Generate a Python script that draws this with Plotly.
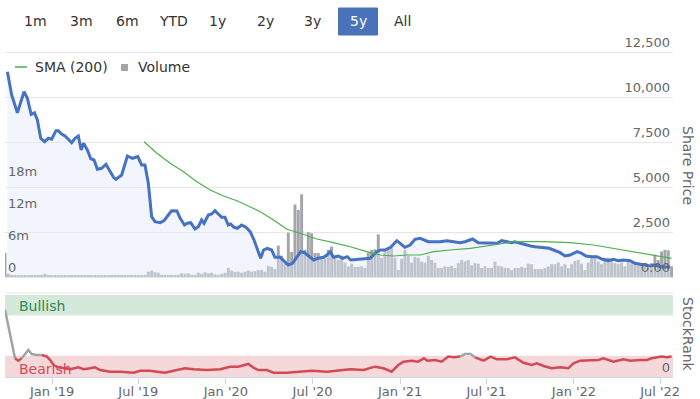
import pandas as pd
import plotly.graph_objects as go

# ---------------- data ----------------
price_dates = [
    "2018-09-29", "2018-10-08", "2018-10-20", "2018-11-03", "2018-11-10", "2018-11-18", "2018-11-25",
    "2018-12-01", "2018-12-08", "2018-12-16", "2018-12-24", "2018-12-31", "2019-01-09", "2019-01-14",
    "2019-01-21", "2019-01-28", "2019-02-04", "2019-02-11", "2019-02-18", "2019-02-25", "2019-03-03",
    "2019-03-08", "2019-03-16", "2019-03-23", "2019-03-30", "2019-04-06", "2019-04-15", "2019-04-24",
    "2019-05-01", "2019-05-10", "2019-05-15", "2019-05-27", "2019-06-08", "2019-06-19", "2019-06-30",
    "2019-07-08", "2019-07-15", "2019-07-22", "2019-07-29", "2019-08-05", "2019-08-16", "2019-08-24",
    "2019-09-02", "2019-09-09", "2019-09-20", "2019-09-27", "2019-10-06", "2019-10-12", "2019-10-19",
    "2019-10-28", "2019-11-04", "2019-11-11", "2019-11-16", "2019-11-25", "2019-12-02", "2019-12-09",
    "2019-12-16", "2019-12-23", "2019-12-30", "2020-01-06", "2020-01-11", "2020-01-18", "2020-01-25",
    "2020-02-03", "2020-02-12", "2020-02-21", "2020-02-29", "2020-03-07", "2020-03-14", "2020-03-20",
    "2020-03-28", "2020-04-06", "2020-04-13", "2020-04-24", "2020-05-02", "2020-05-11", "2020-05-20",
    "2020-05-29", "2020-06-06", "2020-06-14", "2020-06-22", "2020-07-03", "2020-07-13", "2020-07-24",
    "2020-07-31", "2020-08-07", "2020-08-14", "2020-08-24", "2020-09-02", "2020-09-12", "2020-09-19",
    "2020-10-02", "2020-10-16", "2020-10-30", "2020-11-06", "2020-11-13", "2020-11-21", "2020-11-30",
    "2020-12-12", "2020-12-25", "2021-01-01", "2021-01-11", "2021-01-22", "2021-02-01", "2021-02-12",
    "2021-02-20", "2021-03-01", "2021-03-12", "2021-03-26", "2021-04-09", "2021-04-23", "2021-05-07",
    "2021-05-17", "2021-05-28", "2021-06-02", "2021-06-14", "2021-06-28", "2021-07-12", "2021-07-24",
    "2021-08-02", "2021-08-13", "2021-08-23", "2021-08-30", "2021-09-10", "2021-09-20", "2021-10-02",
    "2021-10-11", "2021-10-22", "2021-11-01", "2021-11-10", "2021-11-19", "2021-12-03", "2021-12-13",
    "2021-12-24", "2021-12-31", "2022-01-08", "2022-01-17", "2022-01-26", "2022-02-07", "2022-02-18",
    "2022-03-02", "2022-03-14", "2022-03-25", "2022-04-04", "2022-04-15", "2022-04-29", "2022-05-09",
    "2022-05-20", "2022-05-30", "2022-06-10", "2022-06-20", "2022-07-01", "2022-07-11", "2022-07-22",
]
price_values = [
    11406, 10112, 9128, 10295, 9928, 9040, 9128,
    8723, 7706, 7517, 7706, 7651, 8128, 8128,
    7945, 7834, 7651, 7462, 7706, 7834, 7056,
    7428, 7056, 6573, 6500, 5984, 6039, 6262,
    5945, 5539, 5428, 5667, 6723, 6595, 6684,
    6223, 6223, 5206, 3350, 3072, 3017, 3128,
    3445, 3684, 3667, 3261, 2889, 2984, 3017,
    2667, 2795, 3167, 2984, 3445, 3500, 3684,
    3500, 3317, 3317, 2889, 2945, 2761, 2706,
    2889, 2761, 2517, 2056, 1500, 1039, 1500,
    1595, 1500, 1094, 1094, 906, 667, 761,
    1094, 1406, 1350, 1167, 945, 1039, 1094,
    1222, 1406, 1094, 1167, 1039, 1128, 945,
    983, 983, 1039, 1222, 1406, 1500, 1500,
    1650, 2017, 1872, 1650, 1778, 2095, 2150,
    2056, 1961, 1961, 1961, 2017, 1961, 1906,
    1961, 2095, 2111, 1906, 1906, 1872, 1872,
    2017, 1961, 1906, 1961, 1872, 1833, 1722,
    1683, 1650, 1650, 1595, 1500, 1350, 1167,
    1222, 1317, 1406, 1317, 1167, 1128, 1128,
    983, 906, 983, 906, 945, 906, 761,
    722, 667, 611, 667, 572, 539, 572,
]

sma_dates = [
    "2019-07-13", "2019-08-09", "2019-09-06", "2019-10-04", "2019-11-01", "2019-11-29", "2019-12-27",
    "2020-01-24", "2020-02-27", "2020-03-13", "2020-04-10", "2020-05-08", "2020-06-05", "2020-07-10",
    "2020-08-14", "2020-09-18", "2020-10-23", "2020-11-20", "2020-12-18", "2021-01-15", "2021-02-12",
    "2021-03-12", "2021-04-16", "2021-05-28", "2021-07-16", "2021-08-27", "2021-10-29", "2021-12-24",
    "2022-02-11", "2022-04-08", "2022-06-03", "2022-07-25",
]
sma_values = [
    7517, 6873, 6317, 5850, 5295, 4834, 4500,
    4239, 3817, 3628, 3167, 2650, 2428, 2111,
    1906, 1683, 1406, 1222, 1167, 1222, 1222,
    1406, 1500, 1595, 1778, 1961, 1961, 1906,
    1778, 1539, 1278, 1039,
]

volume_start = "2018-09-24"  # weekly bars
volume_millions = [
    4.5, 0.6, 0.4, 0.3, 0.3, 0.2, 0.3, 0.2, 0.2, 0.3,
    0.2, 0.4, 0.6, 0.3, 0.2, 0.2, 0.3, 0.2, 0.2, 0.2,
    0.3, 0.2, 0.2, 0.3, 0.2, 0.3, 0.2, 0.2, 0.3, 0.2,
    0.3, 0.2, 0.3, 0.4, 0.3, 0.2, 0.3, 0.2, 0.3, 0.4,
    0.3, 0.3, 0.4, 1.0, 1.2, 0.9, 0.8, 0.4, 0.4, 0.3,
    0.4, 0.4, 0.4, 0.7, 0.6, 0.7, 0.4, 0.4, 0.8, 0.6,
    0.9, 0.7, 0.8, 0.5, 0.4, 0.6, 0.8, 1.7, 1.2, 1.0,
    1.0, 0.8, 1.0, 1.2, 1.0, 1.1, 1.3, 1.3, 1.0, 2.1,
    1.9, 1.5, 5.9, 4.0, 2.6, 8.3, 4.7, 13.6, 12.6, 15.5,
    5.1, 8.4, 8.2, 4.5, 4.5, 3.8, 3.6, 5.1, 5.7, 3.6,
    3.2, 4.0, 2.7, 2.0, 2.5, 1.9, 1.9, 2.0, 1.7, 4.6,
    5.1, 5.2, 8.0, 3.6, 4.9, 5.6, 5.4, 3.6, 1.3, 3.4,
    5.1, 4.0, 2.7, 3.8, 3.6, 2.9, 2.7, 4.0, 3.2, 2.7,
    1.7, 1.7, 2.0, 1.9, 2.1, 1.7, 2.6, 3.2, 2.9, 3.2,
    2.2, 2.6, 2.5, 1.7, 2.0, 1.7, 1.7, 2.9, 2.1, 2.0,
    1.7, 1.7, 1.3, 1.7, 1.7, 1.9, 1.7, 2.5, 2.4, 1.5,
    1.5, 1.5, 1.7, 2.0, 2.4, 2.4, 2.7, 2.0, 2.4, 1.7,
    2.4, 3.0, 3.2, 2.5, 1.3, 2.7, 4.0, 4.0, 2.9, 2.4,
    3.6, 3.6, 3.0, 2.6, 2.4, 2.7, 2.0, 2.9, 2.6, 2.7,
    2.4, 2.6, 2.0, 1.7, 2.6, 4.2, 3.2, 4.8, 5.1, 5.0,
    2.0,
]

rank_dates = [
    "2018-09-24", "2018-10-15", "2018-10-22", "2018-10-29", "2018-11-12", "2018-11-19", "2018-11-30",
    "2018-12-10", "2018-12-21", "2018-12-28", "2019-01-04", "2019-01-14", "2019-01-25", "2019-02-08",
    "2019-02-25", "2019-03-08", "2019-03-22", "2019-04-01", "2019-04-12", "2019-05-03", "2019-05-24",
    "2019-06-21", "2019-07-05", "2019-07-26", "2019-08-09", "2019-08-26", "2019-09-13", "2019-10-07",
    "2019-10-25", "2019-11-22", "2019-12-20", "2020-01-10", "2020-01-27", "2020-02-17", "2020-02-27",
    "2020-03-09", "2020-03-27", "2020-04-10", "2020-05-08", "2020-06-05", "2020-06-29", "2020-07-31",
    "2020-08-28", "2020-09-18", "2020-10-16", "2020-11-09", "2020-11-27", "2020-12-14", "2020-12-28",
    "2021-01-08", "2021-01-25", "2021-02-08", "2021-02-20", "2021-02-27", "2021-03-15", "2021-03-29",
    "2021-04-12", "2021-04-24", "2021-05-07", "2021-05-17", "2021-05-29", "2021-06-07", "2021-06-25",
    "2021-07-10", "2021-07-23", "2021-08-13", "2021-08-30", "2021-09-17", "2021-10-04", "2021-10-15",
    "2021-10-29", "2021-11-15", "2021-12-03", "2021-12-20", "2021-12-31", "2022-01-14", "2022-02-04",
    "2022-02-21", "2022-03-04", "2022-03-25", "2022-04-15", "2022-04-29", "2022-05-20", "2022-06-03",
    "2022-06-13", "2022-07-04", "2022-07-15", "2022-07-25",
]
rank_values = [
    82, 22.8, 19.9, 22.8, 32.9, 28, 26.8,
    26.8, 24.8, 20.7, 14.6, 11.8, 10.6, 9.4,
    11.8, 9.4, 10.6, 11.8, 8.5, 6.5, 6.5,
    5.2, 7.7, 7.7, 6.5, 5.2, 7.7, 10.6,
    9.4, 8.5, 9.4, 12.6, 12.6, 15.9, 11.8,
    8.5, 8.5, 5.2, 5.2, 6.5, 7.7, 6.5,
    8.5, 9.4, 8.5, 12.6, 10.6, 6.5, 14.6,
    18.7, 19.9, 18.7, 22.8, 19.9, 20.7, 18.7,
    25, 24, 25, 28, 28, 24, 19.9,
    24.8, 21.6, 21.6, 24, 17.4, 14.6, 16.7,
    13.4, 10.6, 11.8, 10.6, 16.7, 19.9, 19.9,
    20.7, 22.8, 18.7, 21.6, 19.9, 20.7, 20.7,
    22.8, 25, 24, 25,
]

price_ticks = [0, 2500, 5000, 7500, 10000, 12500]
price_tick_text = ["0.00", "2,500", "5,000", "7,500", "10,000", "12,500"]
volume_ticks = [0, 6e6, 12e6, 18e6]
volume_tick_text = ["0", "6m", "12m", "18m"]
date_ticks = ["2019-01-01", "2019-07-01", "2020-01-01", "2020-07-01",
              "2021-01-01", "2021-07-01", "2022-01-01", "2022-07-01"]
date_tick_text = ["Jan '19", "Jul '19", "Jan '20", "Jul '20",
                  "Jan '21", "Jul '21", "Jan '22", "Jul '22"]
range_buttons = ["1m", "3m", "6m", "YTD", "1y", "2y", "3y", "5y", "All"]
selected_button = "5y"
bearish_limit = 26
bullish_limit = 75

# ---------------- geometry helpers (pixels) ----------------
W_FIG, H_FIG = 700, 399
PL, PR, PT, PB = 5, 673, 24, 377      # plot area (top extended so the 12,500 label fits)
PW, PH = PR - PL, PB - PT
MAIN_BOTTOM, PRICE_TOP_LINE = 277, 52  # y pixel of price 0 and 12,500
PANEL_TOP = 295

price_axis_max = 12500 * (MAIN_BOTTOM - PT) / (MAIN_BOTTOM - PRICE_TOP_LINE)
volume_axis_max = 6e6 * (MAIN_BOTTOM - PT) / 32.0


def px(x):
    return (x - PL) / PW


def py(y):
    return (PB - y) / PH


FONT = "DejaVu Sans"
vol_dates = pd.date_range(volume_start, periods=len(volume_millions), freq="7D")

fig = go.Figure()

fig.add_trace(go.Bar(
    x=vol_dates, y=[v * 1e6 for v in volume_millions], name="Volume",
    marker=dict(color="#a3a5ab", line_width=0), xaxis="x", yaxis="y",
    hoverinfo="skip", showlegend=False,
))
fig.add_trace(go.Scatter(
    x=price_dates, y=price_values, mode="lines", name="Share Price",
    line=dict(color="#4572c4", width=3), fill="tozeroy",
    fillcolor="rgba(226,233,246,0.45)", xaxis="x", yaxis="y2", showlegend=False,
))
fig.add_trace(go.Scatter(
    x=sma_dates, y=sma_values, mode="lines", name="SMA (200)",
    line=dict(color="#4cb04c", width=1.2), xaxis="x", yaxis="y2", showlegend=False,
))


# StockRank line split into coloured zones (colour per segment by its mean value)
def zone_color(v):
    if v < bearish_limit:
        return "#d34a57"
    if v >= bullish_limit:
        return "#3d9b5a"
    return "#a3a3a3"


runs = []
for i in range(len(rank_values) - 1):
    c = zone_color((rank_values[i] + rank_values[i + 1]) / 2)
    if runs and runs[-1][0] == c:
        runs[-1][2] = i + 1
    else:
        runs.append([c, i, i + 1])
for c, a, b in runs:
    fig.add_trace(go.Scatter(
        x=rank_dates[a:b + 1], y=rank_values[a:b + 1], mode="lines",
        line=dict(color=c, width=2.5), xaxis="x2", yaxis="y3",
        showlegend=False, name="StockRank",
    ))

axis_font = dict(family=FONT, size=13, color="#666666")

fig.update_layout(
    width=W_FIG, height=H_FIG, autosize=False,
    margin=dict(l=PL, r=W_FIG - PR, t=PT, b=H_FIG - PB, autoexpand=False),
    paper_bgcolor="white", plot_bgcolor="rgba(0,0,0,0)",
    bargap=0.12, showlegend=False,
    font=dict(family=FONT, size=13, color="#333333"),
    xaxis=dict(
        domain=[0, 1], anchor="y", range=["2018-09-24", "2022-07-28"],
        showticklabels=False, showgrid=False, zeroline=False, ticks="",
        showline=True, linecolor="#e6e6e6", linewidth=1,
    ),
    xaxis2=dict(
        domain=[0, 1], anchor="y3", matches="x",
        tickmode="array", tickvals=date_ticks, ticktext=date_tick_text,
        ticks="outside", ticklen=6, tickcolor="#ccd6eb",
        ticklabelstandoff=-4,
        showline=True, linecolor="#ccd6eb", showgrid=False, zeroline=False,
        tickfont=axis_font,
    ),
    yaxis=dict(
        domain=[py(MAIN_BOTTOM), 1], anchor="x", side="left", range=[0, volume_axis_max],
        tickmode="array", tickvals=volume_ticks, ticktext=volume_tick_text,
        ticklabelposition="inside top", showgrid=False, zeroline=False,
        tickfont=axis_font, ticks="",
    ),
    yaxis2=dict(
        overlaying="y", anchor="x", side="right", range=[0, price_axis_max],
        tickmode="array", tickvals=price_ticks, ticktext=price_tick_text,
        ticklabelposition="inside top", showgrid=True, gridcolor="#e6e6e6",
        zeroline=False, tickfont=axis_font, ticks="",
    ),
    yaxis3=dict(
        domain=[0, py(PANEL_TOP)], anchor="x2", side="right", range=[0, 100],
        tickmode="array", tickvals=[0], ticktext=["0"],
        ticklabelposition="inside top", showgrid=False, zeroline=False,
        tickfont=axis_font, ticks="",
    ),
)

shapes = [
    dict(type="rect", xref="x2 domain", yref="y3", x0=0, x1=1, y0=bullish_limit, y1=100,
         fillcolor="#d4e8dc", line_width=0, layer="below"),
    dict(type="rect", xref="x2 domain", yref="y3", x0=0, x1=1, y0=0, y1=bearish_limit,
         fillcolor="#f5d8da", line_width=0, layer="below"),
    dict(type="line", xref="paper", yref="paper", x0=0, x1=1, y0=py(293), y1=py(293),
         line=dict(color="#e6e6e6", width=1)),
    dict(type="line", xref="paper", yref="paper", x0=px(15), x1=px(27), y0=py(67), y1=py(67),
         line=dict(color="#4cb04c", width=1.5)),
    dict(type="rect", xref="paper", yref="paper", x0=px(121), x1=px(128), y0=py(71), y1=py(64),
         fillcolor="#a3a5ab", line_width=0),
]

annotations = [
    dict(text="SMA (200)", x=px(33), y=py(67), xanchor="left", yanchor="middle"),
    dict(text="Volume", x=px(136), y=py(67), xanchor="left", yanchor="middle"),
    dict(text="Share Price", x=px(688), y=py(165), textangle=90,
         xanchor="center", yanchor="middle",
         font=dict(family=FONT, size=14, color="#666666")),
    dict(text="StockRank", x=px(688), y=py(334), textangle=90,
         xanchor="center", yanchor="middle",
         font=dict(family=FONT, size=14, color="#666666")),
    dict(text="Bullish", x=px(17), y=py(306), xanchor="left", yanchor="middle",
         font=dict(family=FONT, size=14, color="#2f8a4c")),
    dict(text="Bearish", x=px(17), y=py(369), xanchor="left", yanchor="middle",
         font=dict(family=FONT, size=14, color="#d24b58")),
]

button_centers = [35, 81, 127, 173, 217, 265, 312, 358, 402]
for label, cx in zip(range_buttons, button_centers):
    sel = label == selected_button
    if sel:
        shapes.append(dict(type="rect", xref="paper", yref="paper",
                           x0=px(cx - 19.5), x1=px(cx + 19.5), y0=py(35), y1=py(8),
                           fillcolor="#4a72b9", line=dict(color="#4a72b9", width=1)))
    annotations.append(dict(text=label, x=px(cx), y=py(21), xanchor="center", yanchor="middle",
                            font=dict(family=FONT, size=14,
                                      color="white" if sel else "#333333")))

for a in annotations:
    a.setdefault("xref", "paper")
    a.setdefault("yref", "paper")
    a.setdefault("showarrow", False)
    a.setdefault("font", dict(family=FONT, size=14, color="#333333"))

fig.update_layout(shapes=shapes, annotations=annotations)

fig.write_html(
    "out.html",
    config={"displayModeBar": False},
    post_script="document.body.style.margin='0';document.body.style.overflow='hidden';",
)
